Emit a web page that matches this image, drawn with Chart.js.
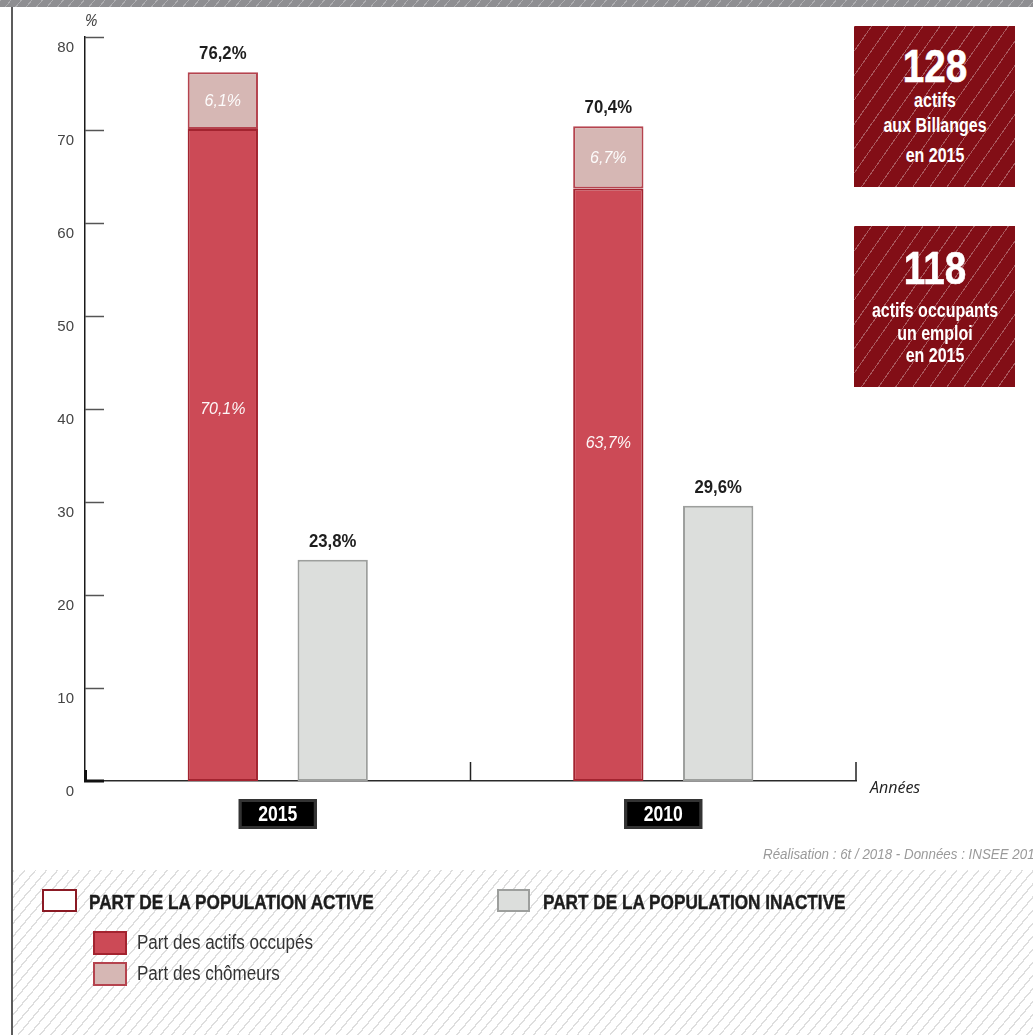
<!DOCTYPE html>
<html lang="fr">
<head>
<meta charset="utf-8">
<title>Population active et inactive</title>
<script src="https://cdn.jsdelivr.net/npm/chart.js@4/dist/chart.umd.min.js"></script>
<style>
  html, body { margin: 0; padding: 0; background: #fff; overflow: hidden; }
  #page { position: relative; width: 1033px; height: 1035px; overflow: hidden;
          font-family: "Liberation Sans", Arial, sans-serif; }
  #topband { position: absolute; left: 0; top: 0; width: 1033px; height: 7px;
             background: #8e8e91 repeating-linear-gradient(130deg, rgba(255,255,255,.28) 0 1px, transparent 1px 8px); }
  #leftrule { position: absolute; left: 11px; top: 7px; width: 2px; height: 1028px; background: #5c5c5c; }
  #hatch { position: absolute; left: 13px; top: 870px; right: 0; bottom: 0;
           background: repeating-linear-gradient(130deg, #dedede 0 1.4px, transparent 1.4px 8.4px); }
  #chart { position: absolute; left: 0; top: 0; }
  .txt { position: absolute; white-space: nowrap; line-height: 1; transform-origin: left center; }
  .pct { left: 91px; top: 20px; transform: translate(-50%, -50%); font: italic 16px "Open Sans", sans-serif; color: #444; }
  .annees { left: 870px; top: 787px; transform: translateY(-50%); font: italic 16px "Open Sans", sans-serif; color: #222; }
  .source { left: 763px; top: 853px; transform: translateY(-50%) scaleX(.89); font-style: italic; font-size: 15px; color: #9a9a9a; }
  .kpi { position: absolute; left: 854px; width: 161px; height: 161px; color: #fff;
         background: #820e16 repeating-linear-gradient(125deg, rgba(255,255,255,.30) 0 1px, transparent 1px 14px); }
  .kpi div { position: absolute; left: 50%; white-space: nowrap; line-height: 1; font-weight: bold; }
  .kpi .big { font-size: 46px; -webkit-text-stroke: 0.6px #fff; transform: translate(-50%, -50%) scaleX(.84); }
  .kpi .small { font-size: 19.5px; transform: translate(-50%, -50%) scaleX(.82); }
  .swatch { position: absolute; box-sizing: border-box; border: 2px solid; }
  .group { font-weight: bold; font-size: 20px; color: #1d1d1d; -webkit-text-stroke: 0.4px #1d1d1d;
           transform: translateY(-50%) scaleX(.86); }
  .item { font-size: 19.5px; color: #333; transform: translateY(-50%) scaleX(.873); }
</style>
</head>
<body>
<div id="page">
  <div id="topband"></div>
  <div id="leftrule"></div>
  <div id="hatch"></div>
  <canvas id="chart" width="1033" height="1035"></canvas>
  <div class="txt pct">%</div>
  <div class="txt annees">Années</div>
  <div class="txt source">Réalisation : 6t / 2018 - Données : INSEE 2015</div>
  <div id="kpis"></div>
  <div id="legend"></div>
</div>
<script>
// Années présentées
const categories = ['2015', '2010'];

// Parts de la population (%)
const occupes  = [70.1, 63.7];   // actifs occupés
const chomeurs = [6.1, 6.7];     // chômeurs
const inactifs = [23.8, 29.6];   // population inactive

// Graduations de l'axe des valeurs
const yMin = 0, yMax = 80, yStep = 10;

// Libellés des séries et des groupes
const seriesNames = ['Part des actifs occupés', 'Part des chômeurs', 'Part de la population inactive'];
const groupNames  = ['PART DE LA POPULATION ACTIVE', 'PART DE LA POPULATION INACTIVE'];

// Chiffres clés
const kpiValues = ['128', '118'];
const kpiLines  = [['actifs', 'aux Billanges', 'en 2015'], ['actifs occupants', 'un emploi', 'en 2015']];

const COLORS = {
  occFill: '#cc4a56', occLine: '#a3232f',
  choFill: '#d6b7b4', choLine: '#b5434e',
  inaFill: '#dcdedc', inaLine: '#9d9f9d',
  kpiLine: '#8b1a24'
};
const SANS = '"Liberation Sans", Arial, sans-serif';

const fmt = v => v.toFixed(1).replace('.', ',') + '%';

// Texte resserré horizontalement (effet « condensed »)
function narrowText(ctx, text, x, y, k) {
  ctx.save();
  ctx.translate(x, y);
  ctx.scale(k, 1);
  ctx.fillText(text, 0, 0);
  ctx.restore();
}

// Repères d'axes : graduations intérieures, angle de l'origine, séparateurs et cartouches des années
const axisMarks = {
  id: 'axisMarks',
  afterDatasetsDraw(chart) {
    const { ctx, chartArea: { left, right, bottom }, scales: { x, y } } = chart;
    ctx.save();
    ctx.strokeStyle = '#555';
    ctx.lineWidth = 1.5;
    y.ticks.forEach(t => {
      if (t.value === yMin) return;
      const py = Math.round(y.getPixelForValue(t.value)) + 0.5;
      ctx.beginPath(); ctx.moveTo(left, py); ctx.lineTo(left + 19, py); ctx.stroke();
    });
    ctx.strokeStyle = '#111';
    ctx.lineWidth = 3;
    ctx.beginPath();
    ctx.moveTo(left + 0.5, bottom - 11); ctx.lineTo(left + 0.5, bottom); ctx.lineTo(left + 19, bottom);
    ctx.stroke();

    const labels = x.getLabels();
    const w = (right - left) / labels.length;
    labels.forEach((lab, i) => {
      const cx = x.getPixelForValue(i);
      const px = cx + w / 2;
      ctx.strokeStyle = '#222';
      ctx.lineWidth = 1.5;
      ctx.beginPath(); ctx.moveTo(px, bottom); ctx.lineTo(px, bottom - 19); ctx.stroke();

      // cartouche noir de l'année
      ctx.fillStyle = '#000';
      ctx.fillRect(cx - 39, bottom + 18, 78, 30);
      ctx.strokeStyle = '#333';
      ctx.lineWidth = 3;
      ctx.strokeRect(cx - 39 + 1.5, bottom + 18 + 1.5, 75, 27);
      ctx.fillStyle = '#fff';
      ctx.font = 'bold 22px ' + SANS;
      ctx.textAlign = 'center';
      ctx.textBaseline = 'middle';
      narrowText(ctx, lab, cx, bottom + 34, 0.8);
    });
    ctx.restore();
  }
};

// Valeurs écrites sur et au-dessus des barres
const valueLabels = {
  id: 'valueLabels',
  afterDatasetsDraw(chart) {
    const { ctx } = chart;
    const mOcc = chart.getDatasetMeta(0).data;
    const mCho = chart.getDatasetMeta(1).data;
    const mIna = chart.getDatasetMeta(2).data;
    ctx.save();
    ctx.textAlign = 'center';
    ctx.textBaseline = 'middle';
    categories.forEach((c, i) => {
      const occ = mOcc[i], cho = mCho[i], ina = mIna[i];
      ctx.fillStyle = '#1e1e1e';
      ctx.font = 'bold 18px ' + SANS;
      narrowText(ctx, fmt(occupes[i] + chomeurs[i]), cho.x, cho.y - 18, 0.93);
      narrowText(ctx, fmt(inactifs[i]), ina.x, ina.y - 18, 0.93);

      ctx.fillStyle = 'rgba(255,255,255,0.95)';
      ctx.font = 'italic 16px ' + SANS;
      ctx.fillText(fmt(chomeurs[i]), cho.x, (cho.y + cho.base) / 2 + 1);
      ctx.fillText(fmt(occupes[i]), occ.x, occ.base - 0.57 * (occ.base - occ.y));
    });
    ctx.restore();
  }
};

new Chart(document.getElementById('chart'), {
  type: 'bar',
  data: {
    labels: categories,
    datasets: [
      { label: seriesNames[0], data: occupes, stack: 'actifs',
        backgroundColor: COLORS.occFill, borderColor: COLORS.occLine, borderWidth: 2, borderSkipped: false },
      { label: seriesNames[1], data: chomeurs, stack: 'actifs',
        backgroundColor: COLORS.choFill, borderColor: COLORS.choLine, borderWidth: 2, borderSkipped: false },
      { label: seriesNames[2], data: inactifs, stack: 'inactifs',
        backgroundColor: COLORS.inaFill, borderColor: COLORS.inaLine, borderWidth: 2, borderSkipped: false }
    ]
  },
  options: {
    responsive: false,
    animation: false,
    devicePixelRatio: 1,
    layout: { padding: { top: 37, right: 177, left: 0, bottom: 0 } },
    datasets: { bar: { categoryPercentage: 0.57, barPercentage: 0.64 } },
    plugins: { legend: { display: false }, tooltip: { enabled: false } },
    scales: {
      x: {
        stacked: true,
        grid: { display: false, drawTicks: false },
        border: { color: '#2a2a2a', width: 1.5 },
        ticks: { display: false },
        afterFit(s) { s.height = 254; }
      },
      y: {
        stacked: true,
        min: yMin, max: yMax,
        grid: { display: false, drawTicks: false },
        border: { color: '#1a1a1a', width: 1.5 },
        ticks: { stepSize: yStep, color: '#444', padding: 11, labelOffset: 11,
                 font: { family: SANS, size: 15 } },
        afterFit(s) { s.width = 85; }
      }
    }
  },
  plugins: [axisMarks, valueLabels]
});

// Encadrés des chiffres clés
const kpiTops = [26, 226];
const kpiRows = [[40, 75, 100, 130], [42, 85, 108, 130]];
const kpiHost = document.getElementById('kpis');
kpiValues.forEach((v, k) => {
  const box = document.createElement('div');
  box.className = 'kpi';
  box.style.top = kpiTops[k] + 'px';
  const big = document.createElement('div');
  big.className = 'big';
  big.style.top = kpiRows[k][0] + 'px';
  big.textContent = v;
  box.appendChild(big);
  kpiLines[k].forEach((line, j) => {
    const d = document.createElement('div');
    d.className = 'small';
    d.style.top = kpiRows[k][j + 1] + 'px';
    d.textContent = line;
    box.appendChild(d);
  });
  kpiHost.appendChild(box);
});

// Légende
const legend = document.getElementById('legend');
function swatch(x, y, w, h, fill, line) {
  const s = document.createElement('div');
  s.className = 'swatch';
  Object.assign(s.style, { left: x + 'px', top: y + 'px', width: w + 'px', height: h + 'px',
                           background: fill, borderColor: line });
  legend.appendChild(s);
}
function label(x, y, cls, text) {
  const t = document.createElement('div');
  t.className = 'txt ' + cls;
  Object.assign(t.style, { left: x + 'px', top: y + 'px' });
  t.textContent = text;
  legend.appendChild(t);
}
swatch(42, 889, 35, 23, '#fff', COLORS.kpiLine);
label(89, 902, 'group', groupNames[0]);
swatch(93, 931, 34, 24, COLORS.occFill, COLORS.occLine);
label(137, 943, 'item', seriesNames[0]);
swatch(93, 962, 34, 24, COLORS.choFill, COLORS.choLine);
label(137, 974, 'item', seriesNames[1]);
swatch(497, 889, 33, 23, COLORS.inaFill, COLORS.inaLine);
label(543, 902, 'group', groupNames[1]);
</script>
</body>
</html>
